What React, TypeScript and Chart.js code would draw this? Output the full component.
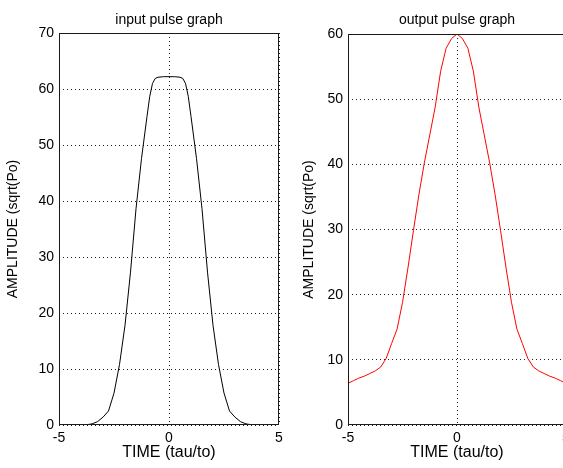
import { useEffect, useRef } from 'react';
import { Chart, registerables } from 'chart.js';

Chart.register(...registerables);

const inputTime = [
  -5, -4.75, -4.5, -4.25, -4, -3.75, -3.5, -3.25, -3, -2.75, -2.5, -2.25, -2, -1.75, -1.5, -1.25, -1, -0.875, -0.75, -0.625, -0.5, -0.25,
  0, 0.25, 0.5, 0.625, 0.75, 0.875, 1, 1.25, 1.5, 1.75, 2, 2.25, 2.5, 2.75, 3, 3.25, 3.5, 3.75, 4, 4.25, 4.5, 4.75, 5,
];

const inputAmplitude = [
  0, 0, 0, 0, 0, 0.05, 0.2, 0.6, 1.4, 2.5, 5.7, 10.8, 17.8, 27.3, 38.6, 47.6, 55.1, 58.7, 61, 61.9, 62.1, 62.2,
  62.2, 62.2, 62.1, 61.9, 61, 58.7, 55.1, 47.6, 38.6, 27.3, 17.8, 10.8, 5.7, 2.5, 1.4, 0.6, 0.2, 0.05, 0, 0, 0, 0, 0,
];

const outputTime = [
  -5, -4.75, -4.5, -4.25, -4, -3.75, -3.5, -3.25, -3, -2.75, -2.5, -2.25, -2, -1.75, -1.5, -1.25, -1, -0.75, -0.5, -0.25,
  0, 0.25, 0.5, 0.75, 1, 1.25, 1.5, 1.75, 2, 2.25, 2.5, 2.75, 3, 3.25, 3.5, 3.75, 4, 4.25, 4.5, 4.75, 5,
];

const outputAmplitude = [
  6.4, 6.8, 7.2, 7.5, 7.9, 8.3, 8.9, 10.2, 12.5, 14.7, 18.8, 24.1, 29.8, 35.3, 40.2, 44.5, 48.8, 54.3, 57.8, 59.3,
  60, 59.3, 57.8, 54.3, 48.8, 44.5, 40.2, 35.3, 29.8, 24.1, 18.8, 14.7, 12.5, 10.2, 8.9, 8.3, 7.9, 7.5, 7.2, 6.8, 6.4,
];

const xTickValues = [-5, 0, 5];
const inputYTicks = [0, 10, 20, 30, 40, 50, 60, 70];
const outputYTicks = [0, 10, 20, 30, 40, 50, 60];

const FONT = '"Liberation Sans", Arial, Helvetica, sans-serif';

const framePlugin = {
  id: 'frame',
  afterDatasetsDraw(chart: any) {
    const { ctx, chartArea } = chart;
    const l = Math.round(chartArea.left) + 0.5;
    const t = Math.round(chartArea.top) + 0.5;
    const r = Math.round(chartArea.right) - 0.5;
    const b = Math.round(chartArea.bottom) - 0.5;
    ctx.save();
    ctx.strokeStyle = '#1a1a1a';
    ctx.lineWidth = 1;
    ctx.setLineDash([]);
    ctx.strokeRect(l, t, r - l, b - t);
    ctx.restore();
  },
};

type Cfg = {
  title: string;
  times: number[];
  amps: number[];
  color: string;
  yTicks: number[];
  yMax: number;
  padLeft: number;
  padRight: number;
  yWidth: number;
  yTitlePad: number;
  titleBottomPad: number;
};

function makeConfig(c: Cfg): any {
  return {
    type: 'line',
    data: {
      datasets: [
        {
          data: c.times.map((t, i) => ({ x: t, y: c.amps[i] })),
          borderColor: c.color,
          borderWidth: 1,
          pointRadius: 0,
          tension: 0,
          fill: false,
        },
      ],
    },
    options: {
      responsive: false,
      animation: false,
      devicePixelRatio: 1,
      layout: { padding: { left: c.padLeft, right: c.padRight, top: 0, bottom: 0 } },
      plugins: {
        legend: { display: false },
        tooltip: { enabled: false },
        title: {
          display: true,
          text: c.title,
          fullSize: false,
          color: '#000',
          font: { family: FONT, size: 14, weight: 'normal', lineHeight: 1.2 },
          padding: { top: 11.6, bottom: c.titleBottomPad },
        },
      },
      scales: {
        x: {
          type: 'linear',
          min: -5,
          max: 5,
          afterBuildTicks: (s: any) => {
            s.ticks = xTickValues.map((v) => ({ value: v }));
          },
          afterFit: (s: any) => {
            s.height = 43;
          },
          grid: { color: '#222', lineWidth: 1, drawTicks: false, tickLength: 0 },
          border: { display: false, dash: [1, 3] },
          ticks: { color: '#000', padding: 5, maxRotation: 0, font: { family: FONT, size: 14 } },
          title: {
            display: true,
            text: 'TIME (tau/to)',
            color: '#000',
            font: { family: FONT, size: 16, lineHeight: 1.2 },
            padding: { top: 0, bottom: 5.4 },
          },
        },
        y: {
          type: 'linear',
          min: 0,
          max: c.yMax,
          afterBuildTicks: (s: any) => {
            s.ticks = c.yTicks.map((v) => ({ value: v }));
          },
          afterFit: (s: any) => {
            s.width = c.yWidth;
          },
          grid: { color: '#222', lineWidth: 1, drawTicks: false, tickLength: 0 },
          border: { display: false, dash: [1, 3] },
          ticks: { color: '#000', padding: 5, font: { family: FONT, size: 14 } },
          title: {
            display: true,
            text: 'AMPLITUDE (sqrt(Po)',
            color: '#000',
            font: { family: FONT, size: 14, lineHeight: 1.2 },
            padding: { top: c.yTitlePad, bottom: 0 },
          },
        },
      },
    },
    plugins: [framePlugin],
  };
}

function PulseChart(props: { cfg: Cfg; left: number }) {
  const ref = useRef<HTMLCanvasElement | null>(null);
  useEffect(() => {
    if (!ref.current) return;
    const chart = new Chart(ref.current, makeConfig(props.cfg));
    return () => chart.destroy();
  }, []);
  return (
    <canvas
      ref={ref}
      width={290}
      height={468}
      style={{ position: 'absolute', left: props.left, top: 0, width: 290, height: 468 }}
    />
  );
}

export default function App() {
  const inputCfg: Cfg = {
    title: 'input pulse graph',
    times: inputTime,
    amps: inputAmplitude,
    color: '#000000',
    yTicks: inputYTicks,
    yMax: 70,
    padLeft: 0,
    padRight: 11,
    yWidth: 59,
    yTitlePad: 5,
    titleBottomPad: 4.6,
  };
  const outputCfg: Cfg = {
    title: 'output pulse graph',
    times: outputTime,
    amps: outputAmplitude,
    color: '#ff0000',
    yTicks: outputYTicks,
    yMax: 60,
    padLeft: 16,
    padRight: 9,
    yWidth: 47,
    yTitlePad: 0,
    titleBottomPad: 5.6,
  };
  return (
    <div
      style={{
        position: 'fixed',
        left: 0,
        top: 0,
        width: 563,
        height: 468,
        overflow: 'hidden',
        background: '#fff',
      }}
    >
      <PulseChart cfg={inputCfg} left={0} />
      <PulseChart cfg={outputCfg} left={285} />
    </div>
  );
}
